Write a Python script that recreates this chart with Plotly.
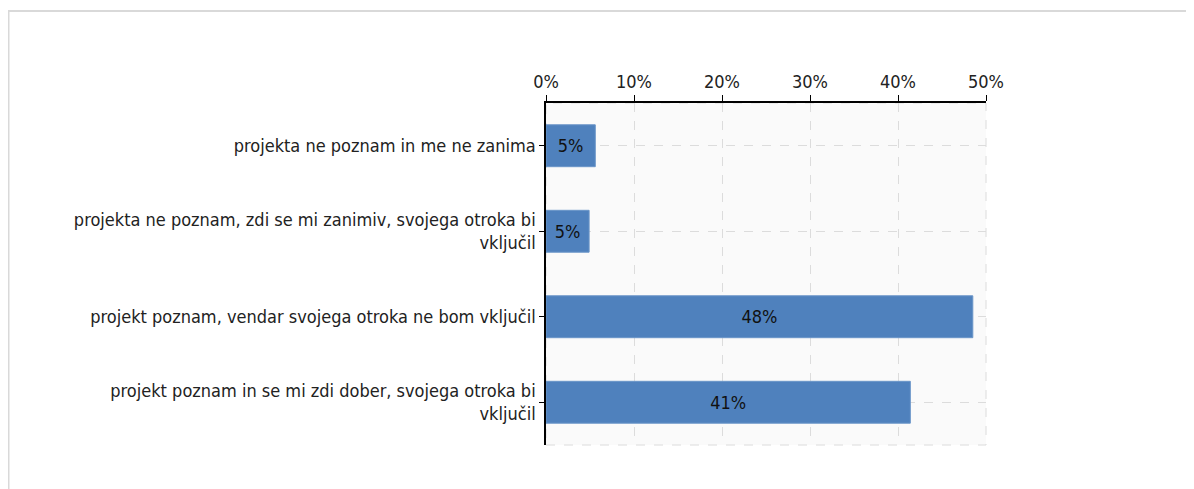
import plotly.graph_objects as go

categories = [
    "projekta ne poznam in me ne zanima",
    "projekta ne poznam, zdi se mi zanimiv, svojega otroka bi<br>vključil",
    "projekt poznam, vendar svojega otroka ne bom vključil",
    "projekt poznam in se mi zdi dober, svojega otroka bi<br>vključil",
]
values = [5.6, 4.9, 48.5, 41.4]
labels = ["5%", "5%", "48%", "41%"]
tick_vals = [0, 10, 20, 30, 40, 50]
tick_text = ["0%", "10%", "20%", "30%", "40%", "50%"]

font_family = "DejaVu Sans Condensed, DejaVu Sans"

fig = go.Figure()
fig.add_trace(go.Bar(
    x=values,
    y=categories,
    orientation="h",
    text=labels,
    textposition="inside",
    insidetextanchor="middle",
    textfont=dict(color="#111111", size=18, family=font_family),
    marker=dict(color="#4f81bd", line=dict(color="#6a95c8", width=1)),
    width=0.49,
    hoverinfo="skip",
    cliponaxis=False,
))

fig.update_layout(
    width=1194,
    height=489,
    margin=dict(l=538, r=216, t=95, b=52),
    paper_bgcolor="white",
    plot_bgcolor="#fafafa",
    showlegend=False,
    font=dict(family=font_family, size=18, color="#222222"),
    xaxis=dict(
        side="top",
        range=[0, 50],
        tickvals=tick_vals,
        ticktext=tick_text,
        showgrid=True,
        gridcolor="#dcdcdc",
        griddash="dash",
        gridwidth=1,
        showline=True,
        linecolor="#000000",
        linewidth=1.5,
        ticks="outside",
        ticklen=6,
        tickcolor="#000000",
        zeroline=False,
        tickfont=dict(size=18, color="#222222"),
        fixedrange=True,
    ),
    yaxis=dict(
        autorange="reversed",
        showgrid=True,
        gridcolor="#dcdcdc",
        griddash="dash",
        gridwidth=1,
        showline=True,
        linecolor="#000000",
        linewidth=1.5,
        ticks="outside",
        ticklen=5,
        tickcolor="#000000",
        tickfont=dict(size=18, color="#222222"),
        zeroline=False,
        fixedrange=True,
    ),
    shapes=[
        dict(type="rect", xref="x domain", yref="y domain", x0=0, x1=1, y0=0, y1=1,
             line=dict(color="#dcdcdc", width=1, dash="dash"), layer="below"),
        dict(type="rect", xref="paper", yref="paper", x0=-1.2216, x1=1.6, y0=-0.3, y1=1.269,
             line=dict(color="#d9d9d9", width=2), layer="below"),
    ],
)

fig.write_html("out.html", config={"displayModeBar": False})
